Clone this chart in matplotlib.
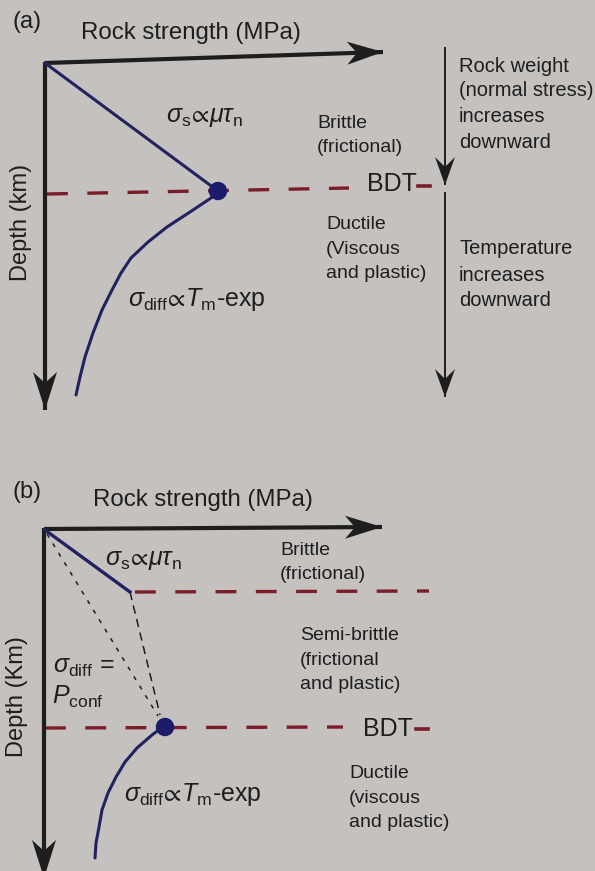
import numpy as np
import matplotlib
matplotlib.use("Agg")
import matplotlib.pyplot as plt
from matplotlib.patches import Polygon, Circle

plt.rcParams['font.family'] = ['Liberation Sans', 'DejaVu Sans']
plt.rcParams['mathtext.fontset'] = 'custom'
plt.rcParams['mathtext.rm'] = 'Liberation Sans'
plt.rcParams['mathtext.it'] = 'Liberation Sans:italic'
plt.rcParams['mathtext.fallback'] = 'stixsans'
plt.rcParams['lines.scale_dashes'] = False

# ---------------- data (schematic strength profiles, figure-pixel units) -------------
# panel (a)
a_brittle_x = [45, 218]
a_brittle_y = [63, 191]
a_ductile_x = [218, 211, 190, 167, 148, 131, 121, 112, 102, 93, 85, 80, 76]
a_ductile_y = [191, 198, 212, 227, 242, 258, 273, 290, 310, 333, 357, 377, 395]
a_bdt = (218, 191)
# panel (b)
b_brittle_x = [45, 130]
b_brittle_y = [530, 592]
b_semi_x = [130, 160]
b_semi_y = [592, 715]
b_pconf_x = [47, 158]
b_pconf_y = [534, 716]
b_ductile_x = [164, 152, 137, 125, 116, 108, 102, 99, 96, 95]
b_ductile_y = [726, 735, 748, 762, 777, 793, 810, 827, 843, 858]
b_bdt = (165, 727)

BG = '#c4c1bf'
NAVY = '#222260'
DOT = '#1c1c6a'
RED = '#7a1d28'
INK = '#1e1e1e'

S_TITLE = 17.3
S_DEPTH = 17
S_SMALL = 14
S_RIGHT = 14.5
S_MATH = 18
S_BDT = 18
S_PANEL = 17

fig = plt.figure(figsize=(5.95, 8.71), dpi=100, facecolor=BG)
ax = fig.add_axes([0, 0, 1, 1])
ax.set_xlim(0, 595)
ax.set_ylim(871, 0)
ax.axis('off')
ax.set_facecolor(BG)


def arrow(x0, y0, x1, y1, lw, head_len, head_w, notch, color=INK):
    ax.plot([x0, x1], [y0, y1], color=color, lw=lw,
            solid_capstyle='butt', zorder=3)
    d = np.array([x1 - x0, y1 - y0], float)
    d /= np.hypot(*d)
    n = np.array([-d[1], d[0]])
    tip = np.array([x1, y1], float)
    back = tip - d * head_len
    pts = [tip, back + n * head_w, tip - d * (head_len - notch), back - n * head_w]
    ax.add_patch(Polygon(pts, closed=True, color=color, zorder=4, lw=0))


def txt(x, y, s, size, **kw):
    kw.setdefault('color', INK)
    kw.setdefault('ha', 'left')
    kw.setdefault('va', 'center')
    ax.text(x, y, s, fontsize=size, **kw)


# ============================ panel (a) ============================
arrow(45, 63, 383, 52, 3.0, 36, 11.5, 10)          # strength axis
arrow(45, 62, 45, 410, 3.0, 38, 12, 11)            # depth axis
arrow(445, 47, 445, 185, 1.4, 28, 10, 10)          # rock weight arrow
arrow(445, 192, 445, 397, 1.4, 28, 10, 10)         # temperature arrow

ax.plot([47, 349], [194, 188], color=RED, lw=2.4, dashes=(15, 14), zorder=2)
ax.plot([418, 430], [186, 186], color=RED, lw=2.6, zorder=2)
ax.plot(a_brittle_x, a_brittle_y, color=NAVY, lw=2.2, zorder=5)
ax.plot(a_ductile_x, a_ductile_y, color=NAVY, lw=2.2, zorder=5,
        solid_capstyle='round', solid_joinstyle='round')
ax.add_patch(Circle(a_bdt, 8.5, color=DOT, zorder=6))

txt(13, 22, '(a)', S_PANEL)
txt(81, 33, 'Rock strength (MPa)', S_TITLE)
txt(21, 222, 'Depth (km)', S_DEPTH, rotation=90, ha='center')
txt(166, 117, r'$\sigma_{\rm s}\!\propto\!\mu\tau_{\rm n}$', S_MATH)
txt(317, 124, 'Brittle', S_SMALL)
txt(317, 148, '(frictional)', S_SMALL)
txt(367, 184, 'BDT', S_BDT)
for yy, s in zip([67, 91, 117, 142], ['Rock weight', '(normal stress)', 'increases', 'downward']):
    txt(459, yy, s, S_RIGHT)
for yy, s in zip([224, 249, 273], ['Ductile', '(Viscous', 'and plastic)']):
    txt(326, yy, s, S_SMALL)
for yy, s in zip([248, 275, 300], ['Temperature', 'increases', 'downward']):
    txt(459, yy, s, S_RIGHT)
txt(128, 299, r'$\sigma_{\rm diff}\!\propto\!T_{\rm m}$-exp', S_MATH)

# ============================ panel (b) ============================
arrow(44, 529, 382, 527, 3.0, 37, 11.5, 10)        # strength axis
arrow(44, 528, 44, 878, 3.0, 38, 12, 11)           # depth axis

ax.plot([135, 429], [592, 591], color=RED, lw=2.4, dashes=(15, 14), zorder=2)
ax.plot([45, 343], [728, 727], color=RED, lw=2.4, dashes=(15, 14), zorder=2)
ax.plot(b_pconf_x, b_pconf_y, color=INK, lw=1.1, dashes=(3, 5), zorder=4)
ax.plot(b_semi_x, b_semi_y, color=INK, lw=1.1, dashes=(6, 4), zorder=4)
ax.plot(b_brittle_x, b_brittle_y, color=NAVY, lw=2.4, zorder=5)
ax.plot(b_ductile_x, b_ductile_y, color=NAVY, lw=2.2, zorder=5,
        solid_capstyle='round', solid_joinstyle='round')
ax.add_patch(Circle(b_bdt, 8.5, color=DOT, zorder=6))

txt(13, 492, '(b)', S_PANEL)
txt(93, 500, 'Rock strength (MPa)', S_TITLE)
txt(17, 697, 'Depth (Km)', S_DEPTH, rotation=90, ha='center')
txt(105, 560, r'$\sigma_{\rm s}\!\propto\!\mu\tau_{\rm n}$', S_MATH)
txt(280, 550, 'Brittle', S_SMALL)
txt(280, 574, '(frictional)', S_SMALL)
for yy, s in zip([635, 660, 684], ['Semi-brittle', '(frictional', 'and plastic)']):
    txt(300, yy, s, S_SMALL)
txt(53, 667, r'$\sigma_{\rm diff}$ =', S_MATH)
txt(52, 697, r'$P_{\rm conf}$', S_MATH)
txt(363, 729, 'BDT', S_BDT)
ax.plot([416, 428], [729, 729], color=RED, lw=2.6, zorder=2)
txt(124, 794, r'$\sigma_{\rm diff}\!\propto\!T_{\rm m}$-exp', S_MATH)
for yy, s in zip([773, 798, 822], ['Ductile', '(viscous', 'and plastic)']):
    txt(349, yy, s, S_SMALL)

fig.savefig('out.png', dpi=100, facecolor=BG)
